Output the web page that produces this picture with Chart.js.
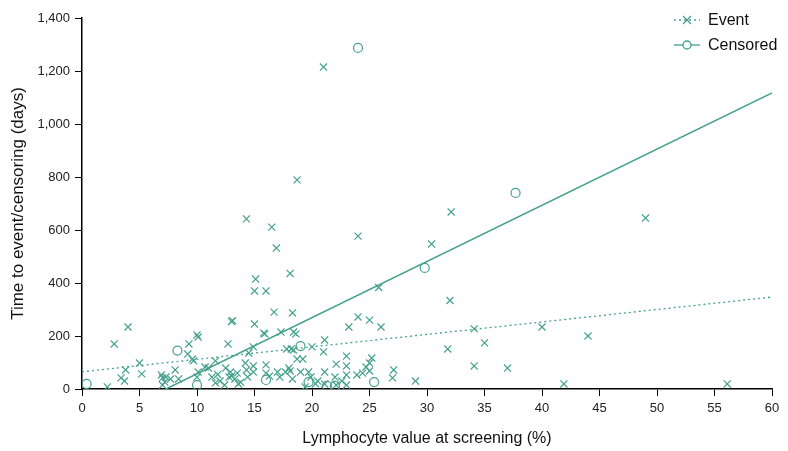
<!DOCTYPE html>
<html>
<head>
<meta charset="utf-8">
<script src="https://cdn.jsdelivr.net/npm/chart.js@4/dist/chart.umd.min.js"></script>
<style>
  html, body { margin: 0; padding: 0; background: #fff; }
  #wrap { width: 788px; height: 451px; }
</style>
</head>
<body>
<div id="wrap"><canvas id="lymphChart" width="788" height="451"></canvas></div>
<script>
// Event points (x = lymphocyte %, y = days)
const eventX = [21.0, 18.7, 14.3, 16.5, 24.0, 32.1, 49.0, 16.9, 30.4, 18.1,
  15.1, 15.0, 16.0, 16.7, 18.3, 25.8, 32.0, 4.0, 2.8, 23.2,
  24.0, 25.0, 26.0, 34.1, 40.0, 44.0, 31.8, 35.0, 34.1, 37.0,
  27.1, 27.0, 29.0, 41.9, 56.1, 15.0, 15.8, 15.9, 17.3, 18.4,
  18.6, 14.9, 17.8, 18.2, 18.4, 20.0, 21.1, 21.0, 18.7, 19.2,
  16.0, 18.0, 18.1, 14.9, 16.0, 16.3, 17.0, 17.2, 17.7, 18.3,
  19.0, 19.7, 19.9, 19.4, 21.1, 21.1, 22.1, 23.0, 23.0, 23.0,
  23.0, 22.1, 23.9, 24.4, 24.7, 25.0, 25.2, 25.0, 13.0, 13.1,
  10.0, 10.1, 9.3, 12.7, 9.2, 9.7, 9.6, 11.6, 12.5, 12.9,
  12.8, 13.0, 13.5, 13.3, 14.3, 14.4, 14.9, 8.1, 8.4, 7.7,
  7.3, 10.1, 10.0, 11.6, 11.3, 11.0, 12.4, 13.6, 14.2, 10.7,
  2.2, 5.0, 3.8, 5.2, 3.4, 3.7, 6.9, 7.0, 7.0, 7.2,
  14.5, 22.0, 20.5, 12.0, 13.8, 11.8, 20.3, 22.6];
const eventY = [1215, 789, 642, 611, 577, 668, 645, 532, 547, 436,
  415, 370, 370, 290, 287, 383, 334, 234, 170, 234,
  272, 260, 234, 227, 234, 200, 151, 174, 87, 79,
  72, 42, 30, 19, 19, 245, 211, 208, 215, 215,
  208, 159, 151, 151, 147, 159, 185, 140, 113, 113,
  91, 79, 68, 64, 60, 49, 64, 45, 64, 38,
  64, 64, 45, 8, 64, 19, 94, 124, 87, 53,
  15, 15, 53, 60, 83, 98, 117, 68, 255, 258,
  204, 196, 170, 170, 132, 106, 113, 106, 79, 64,
  45, 49, 60, 38, 72, 45, 87, 72, 38, 38,
  45, 64, 45, 23, 45, 79, 15, 19, 98, 83,
  8, 98, 72, 57, 42, 30, 53, 42, 15, 26,
  136, 45, 30, 30, 25, 55, 20, 30];

// Censored points
const censX = [0.4, 8.3, 10.0, 16.0, 19.0, 19.7, 21.3, 22.0, 24.0, 25.4, 29.8, 37.7];
const censY = [19, 145, 15, 34, 162, 26, 12, 12, 1287, 26, 457, 740];

// fitted lines, end points
const eventFitX = [0, 60];
const eventFitY = [65, 347];
const censFitX = [7.3, 60];
const censFitY = [0, 1117];

const xTicks = [0, 5, 10, 15, 20, 25, 30, 35, 40, 45, 50, 55, 60];
const yTicks = [0, 200, 400, 600, 800, 1000, 1200, 1400];

const teal = '#45a08d';
const fontFam = '"Liberation Sans", Arial, sans-serif';
const zip = (xs, ys) => xs.map((x, i) => ({ x: x, y: ys[i] }));

// simple legend: line + marker + label, top right
const legendPlugin = {
  id: 'lineLegend',
  afterDraw(chart) {
    const ctx = chart.ctx;
    const items = [
      { label: 'Event', dash: [2, 3], style: 'cross', y: 20 },
      { label: 'Censored', dash: [], style: 'circle', y: 45 }
    ];
    ctx.save();
    items.forEach(it => {
      ctx.strokeStyle = teal;
      ctx.lineWidth = 1.3;
      ctx.setLineDash(it.dash);
      ctx.beginPath();
      ctx.moveTo(674, it.y);
      ctx.lineTo(700, it.y);
      ctx.stroke();
      ctx.setLineDash([]);
      ctx.beginPath();
      if (it.style === 'cross') {
        ctx.moveTo(683, it.y - 4); ctx.lineTo(691, it.y + 4);
        ctx.moveTo(691, it.y - 4); ctx.lineTo(683, it.y + 4);
      } else {
        ctx.arc(687, it.y, 4, 0, Math.PI * 2);
        ctx.fillStyle = '#fff';
        ctx.fill();
      }
      ctx.stroke();
      ctx.fillStyle = '#111';
      ctx.font = '16px ' + fontFam;
      ctx.textBaseline = 'middle';
      ctx.fillText(it.label, 708, it.y + 1);
    });
    ctx.restore();
  }
};

new Chart(document.getElementById('lymphChart'), {
  type: 'scatter',
  data: {
    datasets: [
      {
        label: 'Event fit',
        data: zip(eventFitX, eventFitY),
        showLine: true,
        borderColor: teal,
        borderWidth: 1.3,
        borderDash: [2, 3],
        pointRadius: 0
      },
      {
        label: 'Censored fit',
        data: zip(censFitX, censFitY),
        showLine: true,
        borderColor: teal,
        borderWidth: 1.5,
        pointRadius: 0
      },
      {
        label: 'Event',
        data: zip(eventX, eventY),
        pointStyle: 'crossRot',
        pointRadius: 5,
        borderColor: teal,
        borderWidth: 1.2
      },
      {
        label: 'Censored',
        data: zip(censX, censY),
        pointStyle: 'circle',
        pointRadius: 4.5,
        backgroundColor: 'rgba(255,255,255,0)',
        borderColor: teal,
        borderWidth: 1.2
      }
    ]
  },
  options: {
    responsive: false,
    animation: false,
    layout: { padding: { top: 18, right: 16, left: 0, bottom: 0 } },
    plugins: {
      legend: { display: false },
      tooltip: { enabled: false }
    },
    scales: {
      x: {
        type: 'linear',
        min: 0,
        max: 60,
        afterBuildTicks: s => { s.ticks = xTicks.map(v => ({ value: v })); },
        afterFit: s => { s.height = 62; },
        grid: { drawOnChartArea: false, drawTicks: true, tickLength: 7, color: '#000' },
        border: { color: '#000', width: 1.5 },
        ticks: { color: '#222', padding: 5, font: { size: 13, family: fontFam } },
        title: {
          display: true,
          text: 'Lymphocyte value at screening (%)',
          color: '#111',
          padding: { top: 4, bottom: 3 },
          font: { size: 16, family: fontFam }
        }
      },
      y: {
        type: 'linear',
        min: 0,
        max: 1400,
        afterBuildTicks: s => { s.ticks = yTicks.map(v => ({ value: v })); },
        afterFit: s => { s.width = 82; },
        grid: { drawOnChartArea: false, drawTicks: true, tickLength: 7, color: '#000' },
        border: { color: '#000', width: 1.5 },
        ticks: { color: '#222', padding: 5, font: { size: 13, family: fontFam } },
        title: {
          display: true,
          text: 'Time to event/censoring (days)',
          color: '#111',
          padding: { top: 8, bottom: 0 },
          font: { size: 17, family: fontFam }
        }
      }
    }
  },
  plugins: [legendPlugin]
});
</script>
</body>
</html>
